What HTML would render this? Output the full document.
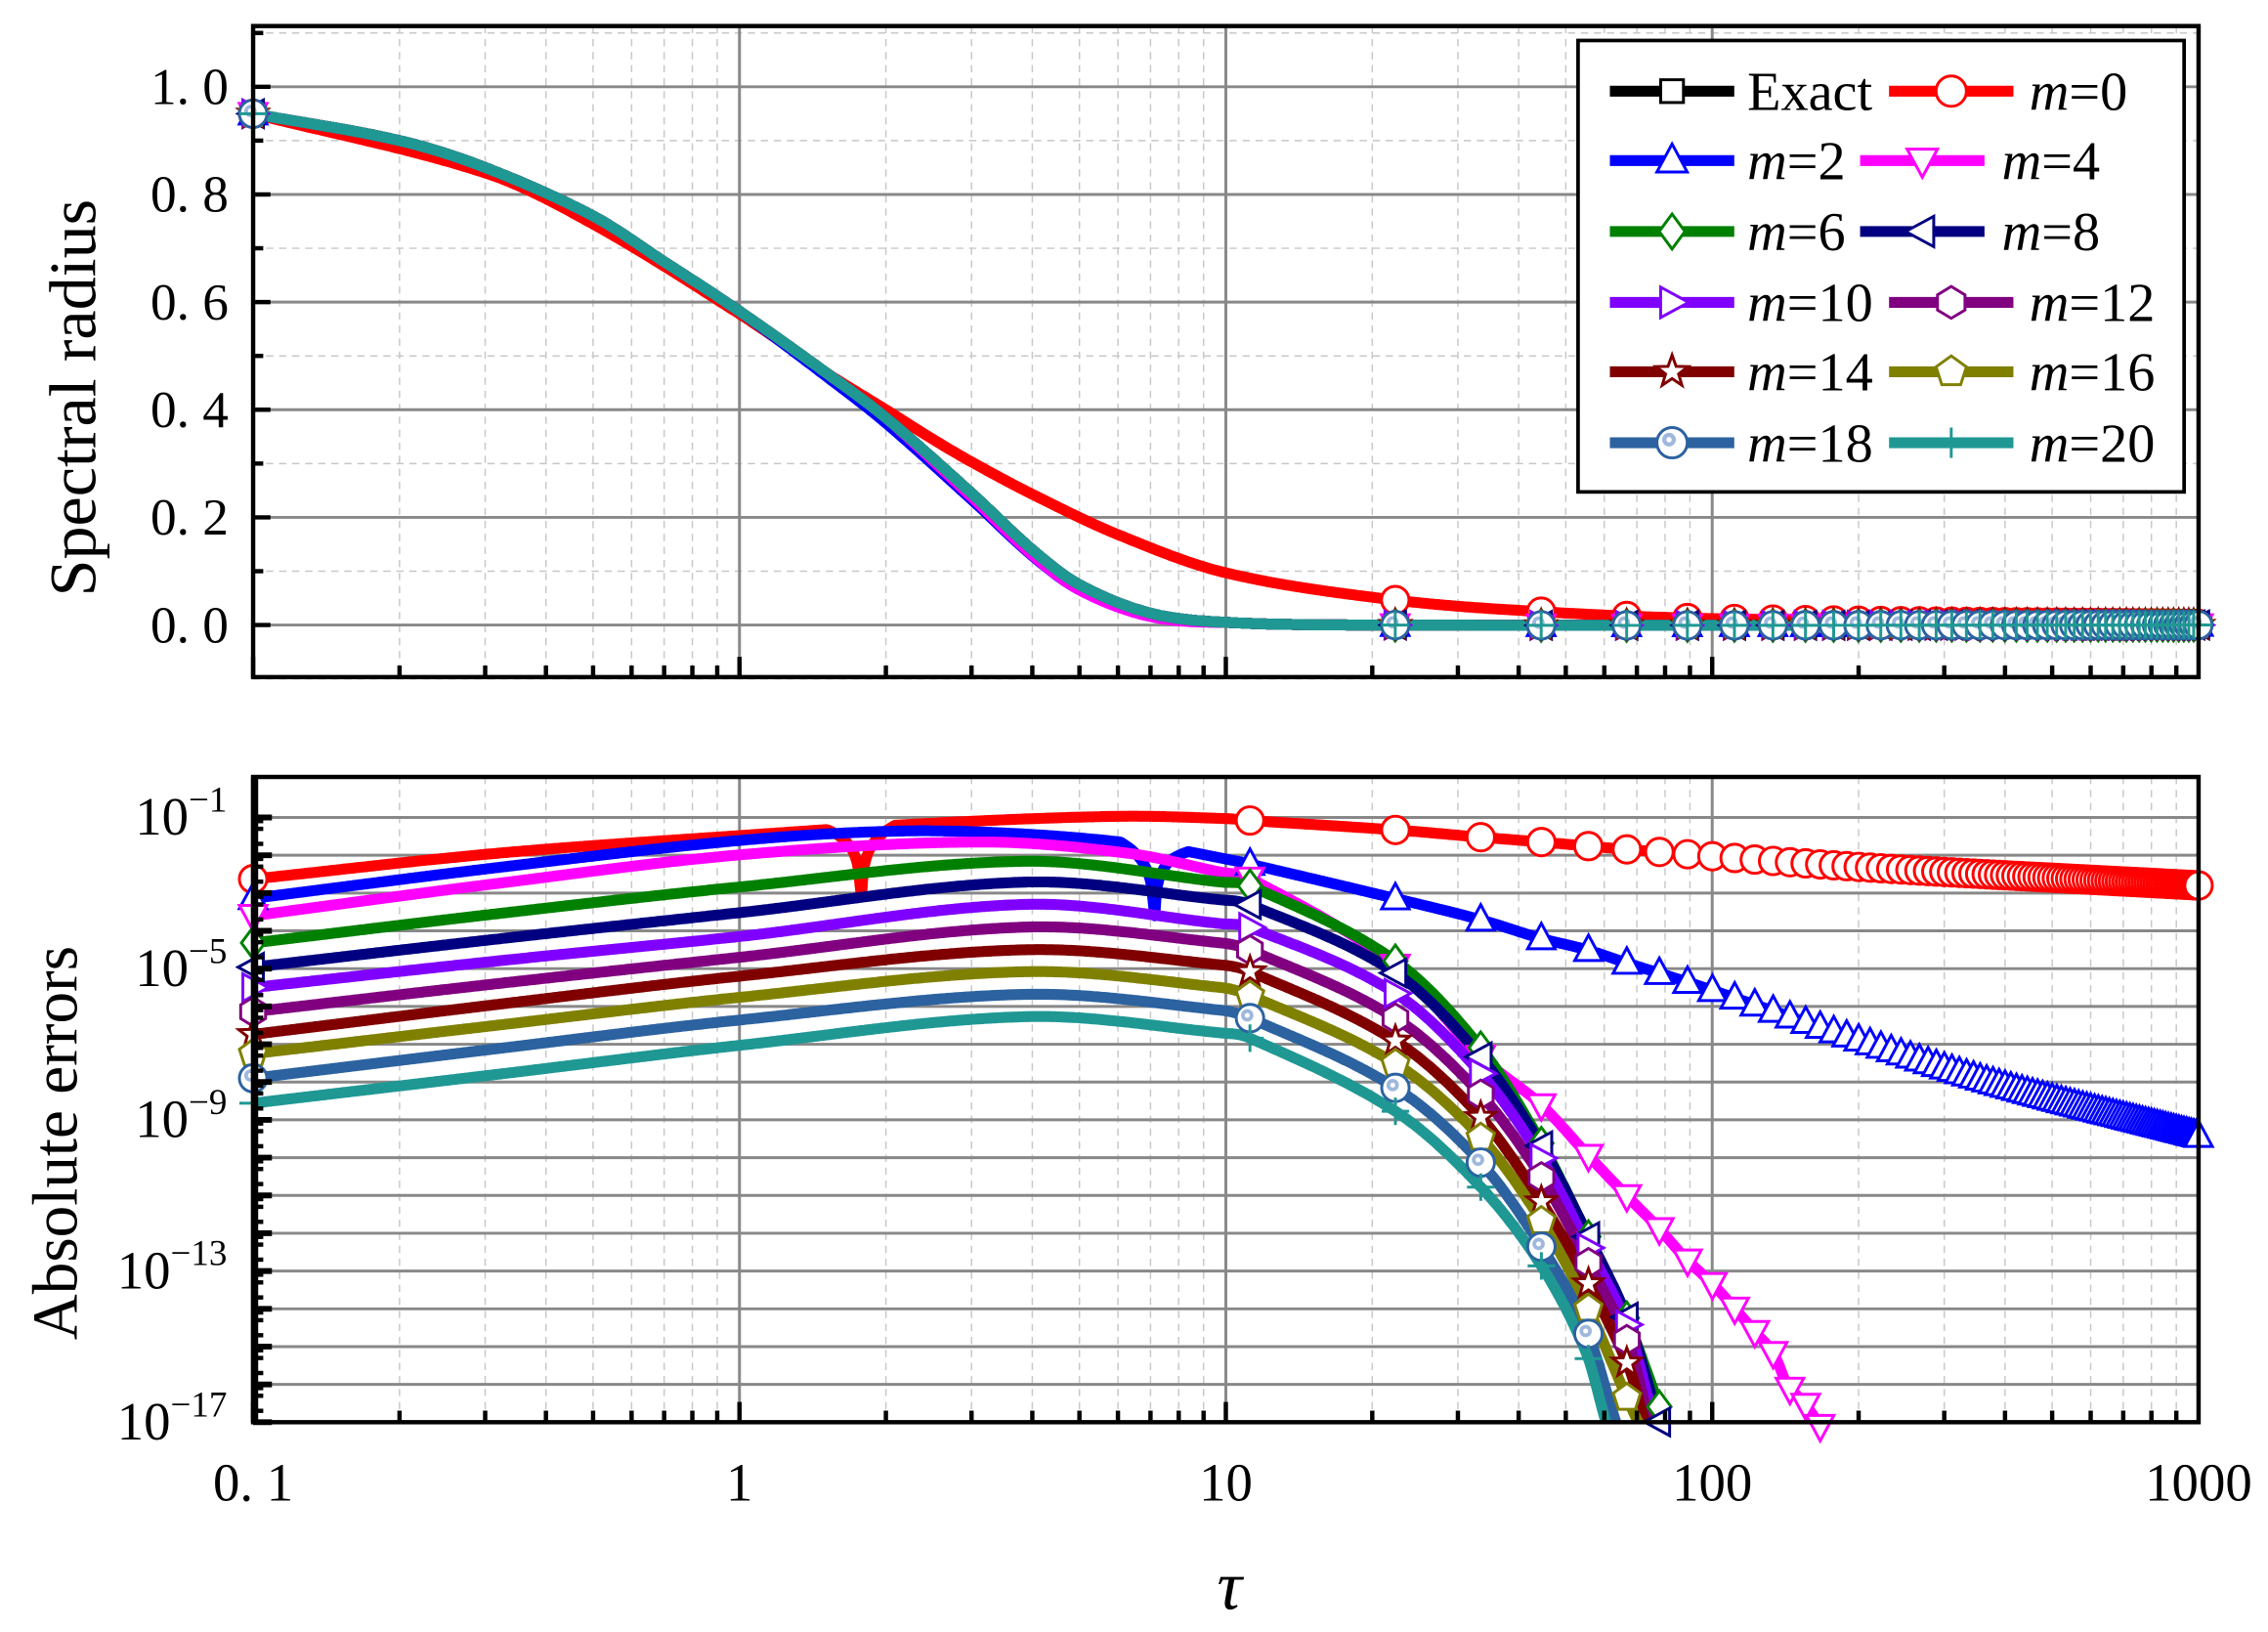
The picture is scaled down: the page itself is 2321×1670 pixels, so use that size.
<!DOCTYPE html>
<html><head><meta charset="utf-8">
<style>
html,body{margin:0;padding:0;background:#fff;}
svg{display:block;}
text{font-family:"Liberation Serif",serif;fill:#000;}
</style></head>
<body>
<svg id="s" xmlns="http://www.w3.org/2000/svg" width="2321" height="1670" viewBox="0 0 1568 1128" preserveAspectRatio="none">
<defs>
<clipPath id="c1"><rect x="175" y="18" width="1345" height="450"/></clipPath>
<clipPath id="c2"><rect x="175" y="537" width="1345" height="446"/></clipPath>
</defs>
<g id="grid"></g>
<g id="top" clip-path="url(#c1)"></g>
<g id="bot" clip-path="url(#c2)"></g>
<g id="topm"></g>
<g id="botm"></g>
<g id="axes"></g>
<g id="legend"></g>
<text x="850" y="1112" font-size="48" font-style="italic" text-anchor="middle">τ</text>
<text transform="translate(66,275) rotate(-90)" font-size="46" text-anchor="middle">Spectral radius</text>
<text transform="translate(53,790) rotate(-90)" font-size="44" text-anchor="middle">Absolute errors</text>
</svg>
<script>
var NS="http://www.w3.org/2000/svg";
function el(p,t,a,txt){var e=document.createElementNS(NS,t);for(var k in a)e.setAttribute(k,a[k]);if(txt!=null)e.textContent=txt;document.getElementById(p).appendChild(e);return e;}
function X(t){return 175+(Math.log10(t)+1)*336.25;}
function Xu(u){return 175+(u+1)*336.25;}
function YT(v){return 432-v*372;}
function YB(E){return 565-(E+1)*26.125;}
var x0=175,x1=1520;
for(var d=-1;d<3;d++){for(var k=2;k<10;k++){var x=X(k*Math.pow(10,d));
 el("grid","line",{x1:x,x2:x,y1:18,y2:468,stroke:"#c8c8c8","stroke-width":1,"stroke-dasharray":"5,4"});
 el("grid","line",{x1:x,x2:x,y1:537,y2:983,stroke:"#c8c8c8","stroke-width":1,"stroke-dasharray":"5,4"});}}
for(var v=-0.1;v<=1.11;v+=0.2){el("grid","line",{x1:x0,x2:x1,y1:YT(v),y2:YT(v),stroke:"#c8c8c8","stroke-width":1,"stroke-dasharray":"5,4"});}
for(var d=0;d<4;d++){var x=X(Math.pow(10,d));
 el("grid","line",{x1:x,x2:x,y1:18,y2:468,stroke:"#888","stroke-width":2});
 el("grid","line",{x1:x,x2:x,y1:537,y2:983,stroke:"#888","stroke-width":2});}
for(var i=0;i<=5;i++){var y=YT(i*0.2);el("grid","line",{x1:x0,x2:x1,y1:y,y2:y,stroke:"#888","stroke-width":2});}
for(var E=-1;E>=-16;E--){var y=YB(E);el("grid","line",{x1:x0,x2:x1,y1:y,y2:y,stroke:"#888","stroke-width":2});}
function interp(p,u){var n=p.length;if(u<=p[0][0])return p[0][1];if(u>=p[n-1][0])return p[n-1][1];
 var i=0;while(p[i+1][0]<u)i++;
 function m(j){if(j==0)return (p[1][1]-p[0][1])/(p[1][0]-p[0][0]);if(j==n-1)return (p[n-1][1]-p[n-2][1])/(p[n-1][0]-p[n-2][0]);
  return (p[j+1][1]-p[j-1][1])/(p[j+1][0]-p[j-1][0]);}
 var h=p[i+1][0]-p[i][0],t=(u-p[i][0])/h,t2=t*t,t3=t2*t;
 return (2*t3-3*t2+1)*p[i][1]+(t3-2*t2+t)*h*m(i)+(-2*t3+3*t2)*p[i+1][1]+(t3-t2)*h*m(i+1);}
function L(t){return Math.log10(t);}
var topCommon=[[0.1,0.95],[0.2,0.9],[0.3,0.85],[0.5,0.76],[0.7,0.675],[1,0.583],[1.5,0.47],[2,0.385],[3,0.245],[4,0.14],[5,0.075],[7,0.022],[10,0.005],[20,0],[1000,0]].map(function(a){return [L(a[0]),a[1]];});
var topRed=[[0.1,0.95],[0.3,0.84],[0.5,0.745],[1,0.578],[1.5,0.47],[2,0.4],[2.5,0.345],[3,0.303],[4,0.243],[6,0.168],[10,0.097],[22,0.047],[44,0.025],[100,0.012],[1000,0.002]].map(function(a){return [L(a[0]),a[1]];});
var C={ex:"#000",m0:"#ff0000",m2:"#0000ff",m4:"#ff00ff",m6:"#008000",m8:"#000080",m10:"#8000ff",m12:"#800080",m14:"#800000",m16:"#808000",m18:"#2c62a0",m20:"#1f9894"};
var B={
m0:[[-1,-2.63],[-0.5,-1.95],[0,-1.48],[0.4,-1.15],[0.78,-0.97],[1.0,-1.03],[1.048,-1.08],[1.348,-1.33],[1.522,-1.52],[1.648,-1.65],[1.82,-1.84],[2.29,-2.3],[3,-2.8]],
m2:[[-1,-3.14],[-0.5,-2.33],[0,-1.61],[0.33,-1.36],[0.6,-1.45],[0.85,-1.75],[1.0,-2.1],[1.048,-2.23],[1.347,-3.14],[1.522,-3.7],[1.648,-4.2],[1.742,-4.5],[1.822,-4.84],[1.948,-5.35],[2.002,-5.58],[2.289,-6.83],[2.6,-8.1],[3,-9.43]],
m4:[[-1,-3.6],[-0.5,-2.75],[0,-1.99],[0.495,-1.65],[0.8,-1.95],[0.99,-2.45],[1.048,-2.6],[1.347,-4.9],[1.522,-7.3],[1.648,-8.6],[1.742,-9.9],[1.822,-10.98],[1.885,-11.8],[1.948,-12.7],[2.002,-13.36],[2.047,-14],[2.087,-14.6],[2.127,-15.2],[2.154,-16],[2.19,-16.5],[2.235,-17.3],[2.3,-18]],
m6:[[-1,-4.32],[-0.5,-3.55],[0,-2.84],[0.59,-2.16],[0.99,-2.71],[1.048,-2.8],[1.347,-4.78],[1.522,-7.06],[1.648,-9.6],[1.742,-12.0],[1.822,-14.16],[1.912,-17.3],[2,-20]],
m8:[[-1,-4.96],[-0.5,-4.22],[0,-3.52],[0.59,-2.71],[0.99,-3.18],[1.048,-3.3],[1.347,-5.1],[1.522,-7.3],[1.648,-9.67],[1.742,-12.0],[1.83,-14.4],[1.9,-17.3],[2,-20]],
m10:[[-1,-5.5],[-0.5,-4.8],[0,-4.15],[0.59,-3.3],[0.99,-3.81],[1.048,-3.9],[1.347,-5.64],[1.522,-7.74],[1.648,-10.0],[1.742,-12.3],[1.83,-14.6],[1.89,-17.3],[2,-20]],
m12:[[-1,-6.14],[-0.5,-5.4],[0,-4.7],[0.59,-3.9],[0.99,-4.32],[1.048,-4.5],[1.347,-6.3],[1.522,-8.3],[1.648,-10.5],[1.742,-12.7],[1.83,-15.0],[1.88,-17.3],[2,-20]],
m14:[[-1,-6.74],[-0.5,-5.95],[0,-5.2],[0.59,-4.5],[0.99,-4.9],[1.048,-5.07],[1.347,-6.9],[1.522,-8.9],[1.648,-11.15],[1.742,-13.25],[1.83,-15.6],[1.87,-17.3],[2,-20]],
m16:[[-1,-7.25],[-0.5,-6.5],[0,-5.76],[0.59,-5.08],[0.99,-5.5],[1.048,-5.7],[1.347,-7.5],[1.522,-9.44],[1.648,-11.66],[1.742,-13.9],[1.86,-17.3],[2,-20]],
m18:[[-1,-7.9],[-0.5,-7.12],[0,-6.36],[0.59,-5.68],[0.99,-6.1],[1.048,-6.3],[1.347,-8.14],[1.522,-10.1],[1.648,-12.34],[1.742,-14.55],[1.81,-17.3],[1.9,-20]],
m20:[[-1,-8.56],[-0.5,-7.8],[0,-7.03],[0.59,-6.27],[0.99,-6.7],[1.048,-6.83],[1.347,-8.76],[1.522,-10.75],[1.648,-12.85],[1.742,-15.2],[1.79,-17.3],[1.9,-20]]};
var dips={m0:[0.25,0.07,0.012],m2:[0.853,0.07,0.008]};
function Eval(k,u){var e=interp(B[k],u);var d=dips[k];if(d){e+=Math.log10(Math.max(d[2],Math.min(1,Math.abs(u-d[0])/d[1])));}return e;}
var keys=["m0","m2","m4","m6","m8","m10","m12","m14","m16","m18","m20"];
var mk={ex:"sq",m0:"ci",m2:"tu",m4:"td",m6:"di",m8:"tl",m10:"tr",m12:"hx",m14:"st",m16:"pe",m18:"bc",m20:"pl"};
function marker(g,type,x,y,c,r){
 var a={fill:"#fff",stroke:c,"stroke-width":2};
 function poly(pts){a.points=pts.map(function(p){return (x+p[0]*r).toFixed(1)+","+(y+p[1]*r).toFixed(1);}).join(" ");el(g,"polygon",a);}
 if(type=="ci"){a.cx=x;a.cy=y;a.r=r;el(g,"circle",a);}
 else if(type=="sq"){a.x=x-r*0.75;a.y=y-r*0.75;a.width=r*1.5;a.height=r*1.5;el(g,"rect",a);}
 else if(type=="tu")poly([[0,-1.1],[1,0.75],[-1,0.75]]);
 else if(type=="td")poly([[0,1.1],[1,-0.75],[-1,-0.75]]);
 else if(type=="di")poly([[0,-1.15],[0.85,0],[0,1.15],[-0.85,0]]);
 else if(type=="tl")poly([[-1.1,0],[0.75,-1],[0.75,1]]);
 else if(type=="tr")poly([[1.1,0],[-0.75,-1],[-0.75,1]]);
 else if(type=="hx")poly([[0,-1.05],[0.9,-0.5],[0.9,0.5],[0,1.05],[-0.9,0.5],[-0.9,-0.5]]);
 else if(type=="pe"){var p=[];for(var i=0;i<5;i++){var t=-Math.PI/2+i*2*Math.PI/5;p.push([Math.cos(t)*1.05,Math.sin(t)*1.05]);}poly(p);}
 else if(type=="st"){var p=[];for(var i=0;i<10;i++){var t=-Math.PI/2+i*Math.PI/5,rr=i%2?0.45:1.1;p.push([Math.cos(t)*rr,Math.sin(t)*rr]);}poly(p);}
 else if(type=="bc"){a.cx=x;a.cy=y;a.r=r;el(g,"circle",a);el(g,"circle",{cx:x-r*0.2,cy:y-r*0.2,r:r*0.45,fill:"#9fb8dc"});el(g,"circle",{cx:x-r*0.2,cy:y-r*0.2,r:r*0.18,fill:"#fff"});}
 else if(type=="pl"){el(g,"line",{x1:x,x2:x,y1:y-r,y2:y+r,stroke:c,"stroke-width":2});el(g,"line",{x1:x-r,x2:x+r,y1:y,y2:y,stroke:c,"stroke-width":2});}
}
var allk=["ex"].concat(keys);
allk.forEach(function(k){var pts=[];for(var u=-1;u<=3.0001;u+=0.005){var v=k=="m0"?interp(topRed,u):interp(topCommon,u);
 if(k=="m2"&&u>0&&u<1)v-=0.012*Math.sin(Math.PI*u);if(k=="m4"&&u>0.3&&u<1)v-=0.01*Math.sin(Math.PI*(u-0.3)/0.7);
 pts.push(Xu(u).toFixed(1)+","+YT(v).toFixed(1));}
 el("top","polyline",{points:pts.join(" "),fill:"none",stroke:C[k],"stroke-width":7.5,"stroke-linejoin":"round"});});
allk.forEach(function(k){var taus=[0.1];for(var j=1;j<=45;j++)taus.push(0.1+j*22.2);
 taus.forEach(function(t){var u=L(t);var v=k=="m0"?interp(topRed,u):interp(topCommon,u);marker("topm",mk[k],X(t),YT(v),C[k],9.5);});});
keys.forEach(function(k){var pts=[];for(var u=-1;u<=3.0001;u+=0.003){var e=Eval(k,u);pts.push(Xu(u).toFixed(1)+","+YB(e).toFixed(1));if(e<-17.6)break;}
 el("bot","polyline",{points:pts.join(" "),fill:"none",stroke:C[k],"stroke-width":7.5,"stroke-linejoin":"round"});});
keys.forEach(function(k){var taus=[0.1];for(var j=1;j<=90;j++)taus.push(0.1+j*11.11);
 taus.forEach(function(t){var e=Eval(k,L(t));if(e<-17.2)return;marker("botm",mk[k],X(t),YB(e),C[k],9.5);});});
el("axes","rect",{x:175,y:18,width:1345,height:450,fill:"none",stroke:"#000","stroke-width":3});
el("axes","rect",{x:175,y:537,width:1345,height:446,fill:"none",stroke:"#000","stroke-width":3});
for(var i=-1;i<=11;i++){var y=YT(i*0.1);if(y<18||y>468)continue;var maj=(i%2==0);
 el("axes","line",{x1:175,x2:175+(maj?12:7),y1:y,y2:y,stroke:"#000","stroke-width":3});
 if(maj&&i>=0)el("axes","text",{x:158,y:y+12,"font-size":36,"text-anchor":"end"},(i/10).toFixed(1).replace(".",". "));}
for(var d=-1;d<3;d++)for(var k=1;k<10;k++){var x=X(k*Math.pow(10,d));var len=k==1?14:8;
 el("axes","line",{x1:x,x2:x,y1:468,y2:468-len,stroke:"#000","stroke-width":3});
 el("axes","line",{x1:x,x2:x,y1:983,y2:983-len,stroke:"#000","stroke-width":3});}
for(var E=-1;E>=-17;E--){var y=YB(E);el("axes","line",{x1:175,x2:188,y1:y,y2:y,stroke:"#000","stroke-width":4});
 for(var s=2;s<10;s+=3){var yy=YB(E-1+Math.log10(s));if(yy<983)el("axes","line",{x1:175,x2:182,y1:yy,y2:yy,stroke:"#000","stroke-width":3});}}
el("axes","line",{x1:176,x2:176,y1:537,y2:983,stroke:"#000","stroke-width":5});
[-1,-5,-9,-13,-17].forEach(function(E){var y=YB(E);var t=el("axes","text",{x:157,y:y+12,"font-size":37,"text-anchor":"end"});
 var a=document.createElementNS(NS,"tspan");a.textContent="10";t.appendChild(a);
 var b=document.createElementNS(NS,"tspan");b.setAttribute("dy","-16");b.setAttribute("font-size","25");b.textContent="−"+(-E);t.appendChild(b);});
[["0. 1",0.1],["1",1],["10",10],["100",100],["1000",1000]].forEach(function(p){el("axes","text",{x:X(p[1]),y:1037,"font-size":37,"text-anchor":"middle"},p[0]);});
el("legend","rect",{x:1091,y:28,width:419,height:312,fill:"#fff",stroke:"#000","stroke-width":2.5});
var rows=[["ex","m0"],["m2","m4"],["m6","m8"],["m10","m12"],["m14","m16"],["m18","m20"]];
var ry=[63,111,160,209,257,306];
rows.forEach(function(r,i){[0,1].forEach(function(c){var k=r[c];var lx,tx;
 if(c==0){lx=1113;tx=1208;}else if(i==1||i==2){lx=1286;tx=1384;}else{lx=1306;tx=1403;}
 var lx2=lx+86;var y=ry[i];
 el("legend","line",{x1:lx,x2:lx2,y1:y,y2:y,stroke:C[k],"stroke-width":7.5});
 marker("legend",mk[k],(lx+lx2)/2,y,C[k],10.5);
 var t=el("legend","text",{x:tx,y:y+13,"font-size":38});
 if(k=="ex"){t.textContent="Exact";}else{var a=document.createElementNS(NS,"tspan");a.setAttribute("font-style","italic");a.textContent="m";t.appendChild(a);
  var b=document.createElementNS(NS,"tspan");b.textContent="="+k.slice(1);t.appendChild(b);}
});});
</script>
</body></html>
